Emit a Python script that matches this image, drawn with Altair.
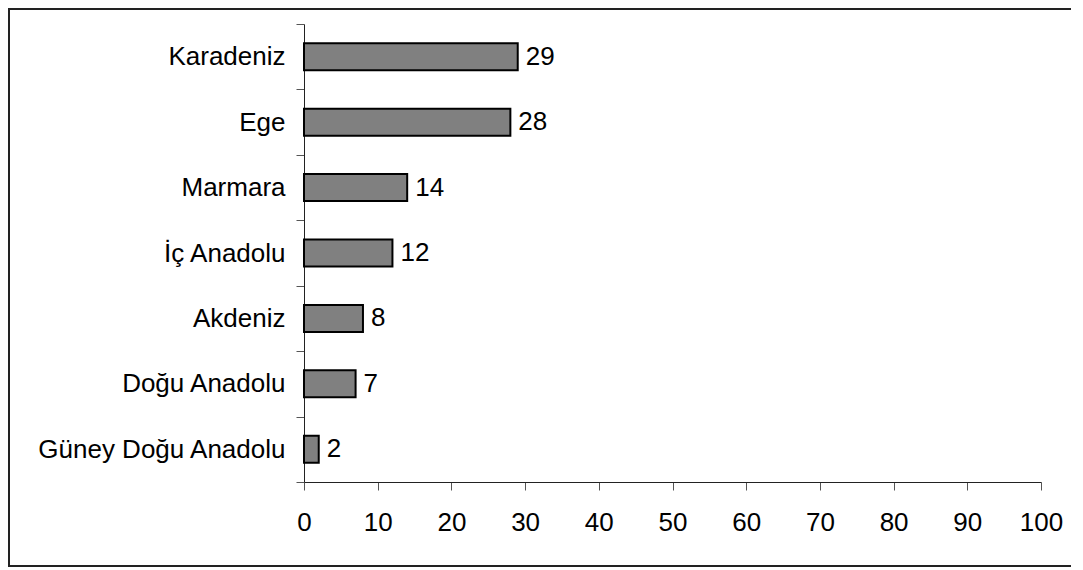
import altair as alt
import pandas as pd

regions = ["Karadeniz", "Ege", "Marmara", "İç Anadolu", "Akdeniz", "Doğu Anadolu", "Güney Doğu Anadolu"]
values = [29, 28, 14, 12, 8, 7, 2]
x_ticks = [0, 10, 20, 30, 40, 50, 60, 70, 80, 90, 100]

df = pd.DataFrame({"region": regions, "value": values})

FONT = "Liberation Sans"
FS = 26

y_enc = alt.Y(
    "region:N",
    sort=regions,
    title=None,
    scale=alt.Scale(paddingInner=0, paddingOuter=0),
    axis=alt.Axis(
        tickBand="extent",
        tickSize=8,
        tickColor="#555555",
        domainColor="#222222",
        domainWidth=1,
        labelPadding=11,
        labelFont=FONT,
        labelFontSize=FS,
        labelColor="#000000",
        labelLimit=400,
    ),
)

x_enc = alt.X(
    "value:Q",
    title=None,
    scale=alt.Scale(domain=[0, 100], nice=False),
    axis=alt.Axis(
        values=x_ticks,
        grid=False,
        tickSize=8,
        tickColor="#555555",
        domainColor="#222222",
        domainWidth=1,
        labelPadding=19,
        labelFont=FONT,
        labelFontSize=FS,
        labelColor="#000000",
        labelFlush=False,
    ),
)

frame = alt.Chart(pd.DataFrame({"a": [0]})).mark_rect(
    fill="transparent", stroke="#222222", strokeWidth=2
).encode(
    x=alt.value(-295), x2=alt.value(800), y=alt.value(-15), y2=alt.value(542)
)

bars = alt.Chart(df).mark_bar(
    color="#808080", stroke="#000000", strokeWidth=2, size=27
).encode(x=x_enc, y=y_enc)

labels = alt.Chart(df).mark_text(
    align="left", baseline="middle", dx=8, font=FONT, fontSize=FS, color="#000000"
).encode(x="value:Q", y=alt.Y("region:N", sort=regions), text="value:Q")

chart = alt.layer(frame, bars, labels).properties(
    width=737,
    height=458,
    padding={"left": 296, "top": 16, "right": 30, "bottom": 86},
    autosize=alt.AutoSizeParams(type="none"),
    background="#ffffff",
).configure_view(stroke=None)

chart.save("out.html", embed_options={"renderer": "svg", "actions": False})
